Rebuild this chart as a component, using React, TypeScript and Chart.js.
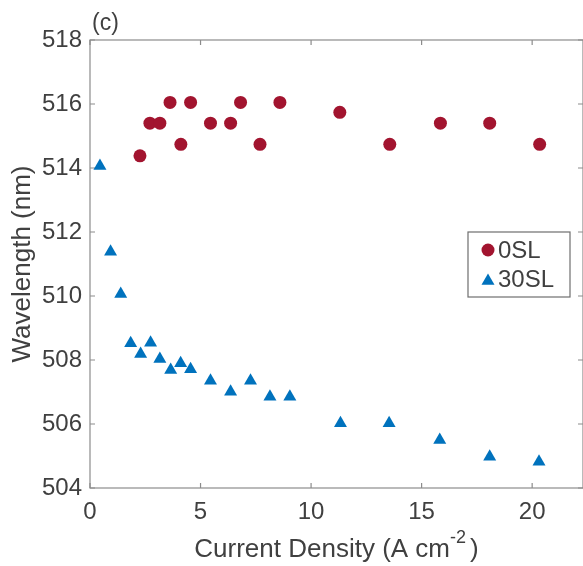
import React, { useEffect, useRef } from 'react';
import { Chart, registerables } from 'chart.js';

Chart.register(...registerables);

// ---- data ----
const currentDensity0SL = [2.26, 2.71, 3.16, 3.62, 4.11, 4.55, 5.45, 6.36, 6.81, 7.69, 8.59, 11.3, 13.56, 15.85, 18.08, 20.34];
const wavelength0SL = [514.38, 515.4, 515.4, 516.05, 514.74, 516.05, 515.4, 515.4, 516.05, 514.74, 516.05, 515.74, 514.74, 515.4, 515.4, 514.74];

const currentDensity30SL = [0.45, 0.93, 1.39, 1.84, 2.29, 2.74, 3.16, 3.65, 4.1, 4.55, 5.45, 6.36, 7.26, 8.14, 9.04, 11.33, 13.53, 15.82, 18.08, 20.31];
const wavelength30SL = [514.06, 511.38, 510.06, 508.52, 508.19, 508.54, 508.03, 507.69, 507.9, 507.71, 507.35, 507.01, 507.35, 506.85, 506.85, 506.02, 506.02, 505.5, 504.98, 504.82];

const seriesLabels = ['0SL', '30SL'];
const xTicks = [0, 5, 10, 15, 20];
const yTicks = [504, 506, 508, 510, 512, 514, 516, 518];
const xRange = [0, 22.3];
const yRange = [504, 518];
const panelLabel = '(c)';
const yTitle = 'Wavelength (nm)';
const xTitleMain = 'Current Density (A cm';
const xTitleSup = '-2';
const xTitleEnd = ')';

const FONT = '"Liberation Sans", Arial, Helvetica, sans-serif';
const TEXT = '#404040';
const AXIS = '#8c8c8c';
const RED = '#A2142F';
const BLUE = '#0072BD';

const toPoints = (xs: number[], ys: number[]) => xs.map((x, i) => ({ x, y: ys[i] }));

function drawTriangle(ctx: CanvasRenderingContext2D, x: number, y: number, r: number) {
  ctx.beginPath();
  let rad = 0;
  ctx.moveTo(x + Math.sin(rad) * r, y - Math.cos(rad) * r);
  rad += (2 * Math.PI) / 3;
  ctx.lineTo(x + Math.sin(rad) * r, y - Math.cos(rad) * r);
  rad += (2 * Math.PI) / 3;
  ctx.lineTo(x + Math.sin(rad) * r, y - Math.cos(rad) * r);
  ctx.closePath();
  ctx.fill();
}

const framePlugin = {
  id: 'frame',
  beforeDatasetsDraw(chart: any) {
    const { ctx, chartArea: a, scales } = chart;
    ctx.save();
    ctx.strokeStyle = AXIS;
    ctx.lineWidth = 1.2;
    ctx.strokeRect(a.left, a.top, a.right - a.left, a.bottom - a.top);
    ctx.beginPath();
    for (const v of xTicks) {
      const px = scales.x.getPixelForValue(v);
      ctx.moveTo(px, a.bottom);
      ctx.lineTo(px, a.bottom - 5);
      ctx.moveTo(px, a.top);
      ctx.lineTo(px, a.top + 5);
    }
    for (const v of yTicks) {
      const py = scales.y.getPixelForValue(v);
      ctx.moveTo(a.left, py);
      ctx.lineTo(a.left + 5, py);
      ctx.moveTo(a.right, py);
      ctx.lineTo(a.right - 5, py);
    }
    ctx.stroke();
    ctx.restore();
  },
  afterDraw(chart: any) {
    const { ctx, chartArea: a } = chart;
    ctx.save();
    ctx.fillStyle = TEXT;
    // panel label
    ctx.font = `23px ${FONT}`;
    ctx.textAlign = 'left';
    ctx.textBaseline = 'alphabetic';
    ctx.fillText(panelLabel, a.left + 2, a.top - 10);

    // y title
    ctx.save();
    ctx.translate(23, (a.top + a.bottom) / 2);
    ctx.rotate(-Math.PI / 2);
    ctx.font = `26px ${FONT}`;
    ctx.textAlign = 'center';
    ctx.textBaseline = 'middle';
    ctx.fillText(yTitle, 0, 0);
    ctx.restore();

    // x title with superscript
    ctx.font = `26px ${FONT}`;
    const w1 = ctx.measureText(xTitleMain).width;
    const w3 = ctx.measureText(xTitleEnd).width;
    ctx.font = `18px ${FONT}`;
    const w2 = ctx.measureText(xTitleSup).width;
    const gap = 4;
    const total = w1 + w2 + gap + w3;
    const cx = (a.left + a.right) / 2;
    let sx = cx - total / 2;
    const base = a.bottom + 69;
    ctx.textAlign = 'left';
    ctx.textBaseline = 'alphabetic';
    ctx.font = `26px ${FONT}`;
    ctx.fillText(xTitleMain, sx, base);
    sx += w1;
    ctx.font = `18px ${FONT}`;
    ctx.fillText(xTitleSup, sx, base - 14);
    sx += w2 + gap;
    ctx.font = `26px ${FONT}`;
    ctx.fillText(xTitleEnd, sx, base);

    // legend box
    const lx = 468;
    const ly = a.top + 192;
    const lw = 102;
    const lh = 65;
    ctx.fillStyle = '#ffffff';
    ctx.fillRect(lx, ly, lw, lh);
    ctx.strokeStyle = '#6e6e6e';
    ctx.lineWidth = 1.2;
    ctx.strokeRect(lx, ly, lw, lh);
    ctx.fillStyle = RED;
    ctx.beginPath();
    ctx.arc(lx + 20, ly + 18, 6.5, 0, Math.PI * 2);
    ctx.fill();
    ctx.fillStyle = BLUE;
    drawTriangle(ctx, lx + 20, ly + 49, 7.5);
    ctx.fillStyle = TEXT;
    ctx.font = `24px ${FONT}`;
    ctx.textBaseline = 'middle';
    ctx.fillText(seriesLabels[0], lx + 30, ly + 19);
    ctx.fillText(seriesLabels[1], lx + 30, ly + 48);
    ctx.restore();
  },
};

export default function App() {
  const ref = useRef<HTMLCanvasElement | null>(null);

  useEffect(() => {
    if (!ref.current) return;
    const chart = new Chart(ref.current, {
      type: 'scatter',
      data: {
        datasets: [
          {
            label: seriesLabels[0],
            data: toPoints(currentDensity0SL, wavelength0SL),
            pointStyle: 'circle',
            pointRadius: 6.5,
            pointHoverRadius: 6.5,
            backgroundColor: RED,
            borderColor: RED,
            borderWidth: 0,
          },
          {
            label: seriesLabels[1],
            data: toPoints(currentDensity30SL, wavelength30SL),
            pointStyle: 'triangle',
            pointRadius: 7.5,
            pointHoverRadius: 7.5,
            backgroundColor: BLUE,
            borderColor: BLUE,
            borderWidth: 0,
          },
        ],
      },
      options: {
        responsive: false,
        animation: false,
        events: [],
        layout: { autoPadding: false, padding: { top: 40, left: 0, right: -1, bottom: 0 } },
        plugins: {
          legend: { display: false },
          tooltip: { enabled: false },
          title: { display: false },
        },
        scales: {
          x: {
            type: 'linear',
            min: xRange[0],
            max: xRange[1],
            grid: { display: false, drawTicks: false, tickLength: 0 },
            border: { display: false },
            ticks: {
              includeBounds: false,
              padding: 10,
              color: TEXT,
              font: { family: FONT, size: 24 },
              maxRotation: 0,
              autoSkip: false,
            },
            afterBuildTicks: (s: any) => {
              s.ticks = xTicks.map((v) => ({ value: v }));
            },
            afterFit: (s: any) => {
              s.height = 78;
              s.paddingLeft = 0;
              s.paddingRight = 0;
            },
          },
          y: {
            type: 'linear',
            min: yRange[0],
            max: yRange[1],
            grid: { display: false, drawTicks: false, tickLength: 0 },
            border: { display: false },
            ticks: {
              includeBounds: false,
              padding: 8,
              color: TEXT,
              font: { family: FONT, size: 24 },
              autoSkip: false,
            },
            afterBuildTicks: (s: any) => {
              s.ticks = yTicks.map((v) => ({ value: v }));
            },
            afterFit: (s: any) => {
              s.width = 90;
              s.paddingTop = 0;
              s.paddingBottom = 0;
            },
          },
        },
      },
      plugins: [framePlugin],
    });
    return () => chart.destroy();
  }, []);

  return (
    <div style={{ position: 'fixed', left: 0, top: 0, width: 583, height: 566, background: '#fff', overflow: 'hidden' }}>
      <canvas ref={ref} width={583} height={566} style={{ display: 'block' }} />
    </div>
  );
}
